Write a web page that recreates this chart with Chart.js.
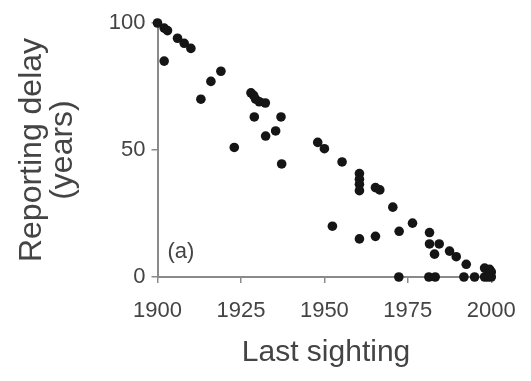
<!DOCTYPE html>
<html>
<head>
<meta charset="utf-8">
<script src="https://cdn.jsdelivr.net/npm/chart.js@4.4.0/dist/chart.umd.min.js"></script>
<style>
  html, body { margin: 0; padding: 0; background: #fff; }
  #wrap { width: 531px; height: 381px; }
</style>
</head>
<body>
<div id="wrap"><canvas id="delayChart" width="531" height="381"></canvas></div>
<script>
// last sighting year vs reporting delay (years)
var lastSighting = [
    1900, 1902, 1903, 1906, 1908, 1910, 1902, 1913, 1916, 1919,
    1928, 1928.8, 1929.4, 1930.5, 1932.3,
    1929, 1937, 1932.4, 1935.4, 1923, 1937.2,
    1948, 1950, 1955.3,
    1960.5, 1960.5, 1960.5, 1960.5,
    1965.3, 1966.6, 1970.5,
    1952.4, 1960.5, 1965.3, 1972.4, 1976.4,
    1981.5, 1981.5, 1984.4, 1983, 1987.5, 1989.5, 1992.5,
    1972.3, 1981.3, 1983.2, 1991.8, 1995,
    1998, 1999.5, 2000, 1998, 1999, 2000, 1999
];
var reportingDelay = [
    100, 98, 97, 94, 92, 90, 85, 70, 77, 81,
    72.5, 71.5, 70, 69, 68.5,
    63, 63, 55.5, 57.5, 51, 44.5,
    53, 50.5, 45.3,
    40.7, 38.5, 36.5, 34,
    35.2, 34.3, 27.5,
    20, 15, 16, 18, 21.2,
    17.5, 13, 13, 9, 10.2, 8, 5,
    0, 0, 0, 0, 0,
    3.5, 3, 2, 0, 1, 0, 0
];
var xTicks = [1900, 1925, 1950, 1975, 2000];
var yTicks = [0, 50, 100];
var panelLabel = '(a)';

var axisGrey = '#8a8a8a';
var textGrey = '#444444';
var fontFamily = '"Liberation Sans", Arial, sans-serif';

var points = [];
for (var i = 0; i < lastSighting.length; i++) {
    points.push({x: lastSighting[i], y: reportingDelay[i]});
}

// small plugin to write the panel letter inside the plot
var panelLabelPlugin = {
    id: 'panelLabel',
    afterDraw: function (chart) {
        var ctx = chart.ctx;
        var px = chart.scales.x.getPixelForValue(1903);
        var py = chart.scales.y.getPixelForValue(10);
        ctx.save();
        ctx.font = '22px ' + fontFamily;
        ctx.fillStyle = textGrey;
        ctx.textAlign = 'left';
        ctx.textBaseline = 'middle';
        ctx.fillText(panelLabel, px, py);
        ctx.restore();
    }
};

function plainTick(value) {
    return String(value);
}

var ctx = document.getElementById('delayChart').getContext('2d');
var delayChart = new Chart(ctx, {
    type: 'scatter',
    data: {
        datasets: [{
            data: points,
            backgroundColor: '#151515',
            borderWidth: 0,
            pointRadius: 4.8,
            clip: false
        }]
    },
    options: {
        responsive: false,
        animation: false,
        layout: {padding: {top: 23, right: 26, left: 0, bottom: 0}},
        plugins: {legend: {display: false}, tooltip: {enabled: false}},
        scales: {
            x: {
                type: 'linear',
                min: 1900,
                max: 2001,
                afterBuildTicks: function (scale) {
                    scale.ticks = xTicks.map(function (v) { return {value: v}; });
                },
                afterFit: function (scale) { scale.height = 104; },
                grid: {drawOnChartArea: false, tickLength: 6, color: axisGrey, lineWidth: 1.5},
                border: {color: axisGrey, width: 2},
                ticks: {
                    font: {family: fontFamily, size: 22},
                    color: textGrey,
                    padding: 15,
                    maxRotation: 0,
                    callback: plainTick
                },
                title: {
                    display: true,
                    text: 'Last sighting',
                    font: {family: fontFamily, size: 30, lineHeight: 1.0},
                    color: textGrey,
                    padding: {top: 0, bottom: 13}
                }
            },
            y: {
                type: 'linear',
                min: 0,
                max: 100,
                afterBuildTicks: function (scale) {
                    scale.ticks = yTicks.map(function (v) { return {value: v}; });
                },
                afterFit: function (scale) { scale.width = 157.5; },
                grid: {drawOnChartArea: false, tickLength: 6, color: axisGrey, lineWidth: 1.5},
                border: {color: axisGrey, width: 2},
                ticks: {
                    font: {family: fontFamily, size: 22},
                    color: textGrey,
                    padding: 6,
                    callback: plainTick
                },
                title: {
                    display: true,
                    text: ['Reporting delay', '(years)'],
                    font: {family: fontFamily, size: 32, lineHeight: 0.97},
                    color: textGrey,
                    padding: {top: 17, bottom: 0}
                }
            }
        }
    },
    plugins: [panelLabelPlugin]
});
</script>
</body>
</html>
